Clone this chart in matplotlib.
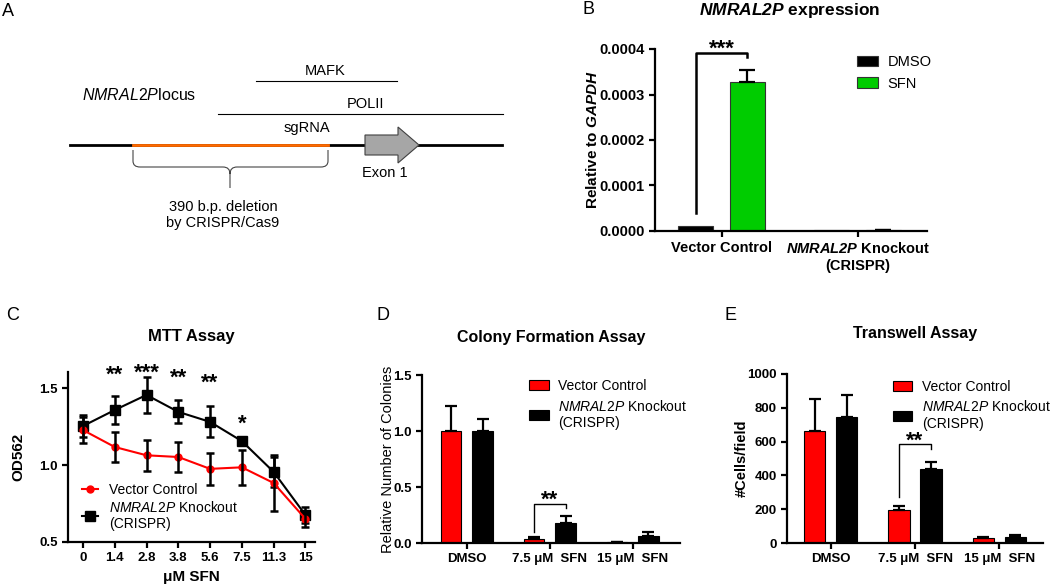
import numpy as np
import matplotlib
matplotlib.use("Agg")
import matplotlib.pyplot as plt
from matplotlib.patches import Polygon, PathPatch
from matplotlib.path import Path

plt.rcParams['font.family'] = ['Liberation Sans', 'DejaVu Sans']
plt.rcParams['mathtext.fontset'] = 'custom'
plt.rcParams['mathtext.rm'] = 'Liberation Sans'
plt.rcParams['mathtext.it'] = 'Liberation Sans:italic'
plt.rcParams['mathtext.bf'] = 'Liberation Sans:bold'
plt.rcParams['mathtext.bfit'] = 'Liberation Sans:bold:italic'

# ---- data ----
# B: NMRAL2P expression relative to GAPDH
b_groups = ["Vector Control", "$\\mathbfit{NMRAL2P}$ Knockout\n(CRISPR)"]
b_dmso = [0.0000120, 0.0000020]
b_sfn = [0.000328, 0.0000015]
b_sfn_err = [0.000025, 0.0]

# C: MTT assay
c_doses = ["0", "1.4", "2.8", "3.8", "5.6", "7.5", "11.3", "15"]
c_vc = [1.227, 1.117, 1.063, 1.052, 0.975, 0.985, 0.883, 0.650]
c_vc_err = [0.085, 0.100, 0.100, 0.097, 0.105, 0.115, 0.180, 0.050]
c_ko = [1.253, 1.357, 1.455, 1.345, 1.280, 1.155, 0.955, 0.675]
c_ko_err = [0.070, 0.088, 0.115, 0.075, 0.100, 0.015, 0.100, 0.050]
c_stars = ["", "**", "***", "**", "**", "*", "", ""]
c_star_y = [0, 1.545, 1.558, 1.526, 1.494, 1.227, 0, 0]

# D: colony formation
d_groups = ["DMSO", "7.5 \u03bcM  SFN", "15 \u03bcM  SFN"]
d_vc = [1.0, 0.035, 0.005]
d_vc_err = [0.22, 0.015, 0.0]
d_ko = [1.0, 0.18, 0.065]
d_ko_err = [0.11, 0.065, 0.035]

# E: transwell
e_groups = ["DMSO", "7.5 \u03bcM  SFN", "15 \u03bcM  SFN"]
e_vc = [665, 197, 28]
e_vc_err = [190, 20, 8]
e_ko = [748, 440, 37]
e_ko_err = [128, 42, 12]

ko_label = "$\\mathit{NMRAL2P}$ Knockout\n(CRISPR)"
RED = "#ff0000"
GREEN = "#00cc00"

W, H = 1050, 585
fig = plt.figure(figsize=(10.5, 5.85), dpi=100)


def box(l, t, r, b):
    return [l / W, 1 - b / H, (r - l) / W, (b - t) / H]


def style(ax, size=9):
    for s in ['top', 'right']:
        ax.spines[s].set_visible(False)
    for s in ['left', 'bottom']:
        ax.spines[s].set_linewidth(1.6)
    ax.tick_params(width=1.6, length=4, direction='out', labelsize=size)
    plt.setp(ax.get_xticklabels() + ax.get_yticklabels(), fontweight='bold')


# panel letters
for letter, px, py in [("A", 8, 12), ("B", 588, 9), ("C", 13, 316), ("D", 383, 316), ("E", 730, 316)]:
    fig.text(px / W, 1 - py / H, letter, fontsize=13, ha='center', va='center')

# ---- A: locus diagram ----
ax_a = fig.add_axes(box(0, 0, 540, 290))
ax_a.set_xlim(0, 540)
ax_a.set_ylim(290, 0)
ax_a.axis('off')
ax_a.plot([70, 502], [145, 145], color='black', lw=2)
ax_a.plot([133, 328], [145, 145], color='#ff6a00', lw=2)
ax_a.add_patch(Polygon([(365, 135), (398, 135), (398, 127), (419, 145), (398, 163), (398, 155), (365, 155)],
                       closed=True, fc='#a6a6a6', ec='#404040', lw=0.8, zorder=3))
ax_a.plot([256, 397], [81, 81], color='black', lw=0.8)
ax_a.plot([218, 503], [114, 114], color='black', lw=0.8)
ax_a.text(325, 71, "MAFK", ha='center', va='center', fontsize=10.5)
ax_a.text(365, 104, "POLII", ha='center', va='center', fontsize=10.5)
ax_a.text(307, 128, "sgRNA", ha='center', va='center', fontsize=10.5)
ax_a.text(385, 173, "Exon 1", ha='center', va='center', fontsize=10.5)
ax_a.text(82, 95, "$\\mathit{NMRAL2P}$locus", ha='left', va='center', fontsize=11.5)
verts = [(133, 150), (133, 161), (133, 167), (140, 167), (223, 167), (230, 167), (230, 174), (230, 188),
         (328, 150), (328, 161), (328, 167), (321, 167), (237, 167), (230, 167), (230, 174)]
codes = [Path.MOVETO, Path.LINETO, Path.CURVE3, Path.CURVE3, Path.LINETO, Path.CURVE3, Path.CURVE3, Path.LINETO,
         Path.MOVETO, Path.LINETO, Path.CURVE3, Path.CURVE3, Path.LINETO, Path.CURVE3, Path.CURVE3]
ax_a.add_patch(PathPatch(Path(verts, codes), fc='none', ec='#444444', lw=0.8))
ax_a.text(223, 207, "390 b.p. deletion", ha='center', va='center', fontsize=10.5)
ax_a.text(223, 223, "by CRISPR/Cas9", ha='center', va='center', fontsize=10.5)

# ---- B: expression ----
ax_b = fig.add_axes(box(655, 49, 927, 231))
x = np.arange(len(b_groups))
bw, off = 0.26, 0.19
ax_b.bar(x - off, b_dmso, bw, color='black', edgecolor='#333333', lw=0.8, label='DMSO')
ax_b.bar(x + off, b_sfn, bw, color=GREEN, edgecolor='#333333', lw=0.8, label='SFN')
ax_b.errorbar(x + off, b_sfn, yerr=[np.zeros(len(x)), b_sfn_err], fmt='none', ecolor='black',
              elinewidth=1.6, capsize=6, capthick=1.6)
ax_b.set_xlim(-0.49, 1.51)
ax_b.set_ylim(0, 0.0004)
yt = [0, 0.0001, 0.0002, 0.0003, 0.0004]
ax_b.set_yticks(yt)
ax_b.set_yticklabels([f"{v:.4f}" for v in yt])
ax_b.set_xticks(x)
ax_b.set_xticklabels(b_groups)
style(ax_b, 10.5)
ax_b.plot([-off, -off, off, off], [0.00004, 0.000391, 0.000391, 0.000382], color='black', lw=1.8, clip_on=False)
ax_b.text(0, 0.000387, "***", ha='center', va='baseline', fontsize=16, fontweight='bold')
ax_b.set_ylabel("Relative to $\\mathbfit{GAPDH}$", fontsize=11, fontweight='bold')
ax_b.yaxis.set_label_coords((600 - 655) / 272, 0.5)
ax_b.legend(loc='upper left', bbox_to_anchor=(0.743, 0.965), frameon=False, fontsize=10.5,
            handlelength=1.4, handleheight=0.7, handletextpad=0.7, borderpad=0, borderaxespad=0,
            labelspacing=0.5)
fig.text(790 / W, 1 - 10 / H, "$\\mathbfit{NMRAL2P}$ expression", ha='center', va='center',
         fontsize=12.5, fontweight='bold')

# ---- C: MTT ----
ax_c = fig.add_axes(box(68, 372, 315, 542))
xc = np.arange(len(c_doses))
ax_c.errorbar(xc, c_ko, yerr=c_ko_err, fmt='none', ecolor='black', elinewidth=1.8, capsize=3, capthick=1.8)
ax_c.plot(xc, c_ko, color='black', lw=1.5, marker='s', ms=6.5, label=ko_label)
ax_c.plot(xc, c_vc, color=RED, lw=1.5, marker='o', ms=5, label='Vector Control')
ax_c.errorbar(xc, c_vc, yerr=c_vc_err, fmt='none', ecolor='black', elinewidth=1.8, capsize=3, capthick=1.8)
for xi, s, y in zip(xc, c_stars, c_star_y):
    if s:
        ax_c.text(xi, y, s, ha='center', va='baseline', fontsize=16, fontweight='bold')
ax_c.set_xlim(-0.47, 7.3)
ax_c.set_ylim(0.5, 1.604)
ax_c.set_yticks([0.5, 1.0, 1.5])
ax_c.set_yticklabels(["0.5", "1.0", "1.5"])
ax_c.set_xticks(xc)
ax_c.set_xticklabels(c_doses)
style(ax_c, 9.5)
ax_c.set_xlabel("\u03bcM SFN", fontsize=11, fontweight='bold')
ax_c.set_ylabel("OD562", fontsize=11, fontweight='bold')
ax_c.yaxis.set_label_coords((25 - 68) / 247, 0.5)
hnd, lab = ax_c.get_legend_handles_labels()
ax_c.legend(hnd[::-1], lab[::-1], loc='upper left', bbox_to_anchor=(0.055, 0.345), frameon=False,
            fontsize=10, handlelength=1.2, handletextpad=0.8, borderpad=0, borderaxespad=0,
            labelspacing=0.2)
ax_c.set_title("MTT Assay", fontsize=12, fontweight='bold', pad=22)

# ---- D: colony formation ----
ax_d = fig.add_axes(box(422, 375, 680, 543))
xd = np.arange(len(d_groups))
ax_d.bar(xd - off, d_vc, 0.25, color=RED, edgecolor='black', lw=0.8, label='Vector Control')
ax_d.bar(xd + off, d_ko, 0.25, color='black', edgecolor='black', lw=0.8, label=ko_label)
ax_d.errorbar(xd - off, d_vc, yerr=[np.zeros(3), d_vc_err], fmt='none', ecolor='black',
              elinewidth=1.6, capsize=4, capthick=1.6)
ax_d.errorbar(xd + off, d_ko, yerr=[np.zeros(3), d_ko_err], fmt='none', ecolor='black',
              elinewidth=1.6, capsize=4, capthick=1.6)
ax_d.set_xlim(-0.54, 2.57)
ax_d.set_ylim(0, 1.5)
ax_d.set_yticks([0, 0.5, 1.0, 1.5])
ax_d.set_yticklabels(["0.0", "0.5", "1.0", "1.5"])
ax_d.set_xticks(xd)
ax_d.set_xticklabels(d_groups)
style(ax_d, 9.5)
ax_d.plot([1 - off, 1 - off, 1 + off, 1 + off], [0.098, 0.348, 0.348, 0.3125], color='black', lw=1)
ax_d.text(1, 0.33, "**", ha='center', va='baseline', fontsize=16, fontweight='bold')
ax_d.set_ylabel("Relative Number of Colonies", fontsize=10.5)
ax_d.yaxis.set_label_coords((395 - 422) / 258, 0.5)
ax_d.legend(loc='upper left', bbox_to_anchor=(0.415, 0.975), frameon=False, fontsize=10,
            handlelength=1.4, handleheight=0.7, handletextpad=0.7, borderpad=0, borderaxespad=0,
            labelspacing=0.4)
ax_d.set_title("Colony Formation Assay", fontsize=11.5, fontweight='bold', pad=24)

# ---- E: transwell ----
ax_e = fig.add_axes(box(787, 374, 1043, 543))
xe = np.arange(len(e_groups))
ax_e.bar(xe - off, e_vc, 0.25, color=RED, edgecolor='black', lw=0.8, label='Vector Control')
ax_e.bar(xe + off, e_ko, 0.25, color='black', edgecolor='black', lw=0.8, label=ko_label)
ax_e.errorbar(xe - off, e_vc, yerr=[np.zeros(3), e_vc_err], fmt='none', ecolor='black',
              elinewidth=1.6, capsize=4, capthick=1.6)
ax_e.errorbar(xe + off, e_ko, yerr=[np.zeros(3), e_ko_err], fmt='none', ecolor='black',
              elinewidth=1.6, capsize=4, capthick=1.6)
ax_e.set_xlim(-0.52, 2.52)
ax_e.set_ylim(0, 1000)
ax_e.set_yticks([0, 200, 400, 600, 800, 1000])
ax_e.set_xticks(xe)
ax_e.set_xticklabels(e_groups)
style(ax_e, 9.5)
ax_e.plot([1 - off, 1 - off, 1 + off, 1 + off], [272, 586, 586, 556], color='black', lw=1)
ax_e.text(1, 568, "**", ha='center', va='baseline', fontsize=16, fontweight='bold')
ax_e.set_ylabel("#Cells/field", fontsize=10.5, fontweight='bold')
ax_e.yaxis.set_label_coords((749 - 787) / 256, 0.5)
ax_e.legend(loc='upper left', bbox_to_anchor=(0.414, 0.965), frameon=False, fontsize=10,
            handlelength=1.4, handleheight=0.7, handletextpad=0.7, borderpad=0, borderaxespad=0,
            labelspacing=0.4)
ax_e.set_title("Transwell Assay", fontsize=11.5, fontweight='bold', pad=26)

fig.savefig("out.png", dpi=100)
